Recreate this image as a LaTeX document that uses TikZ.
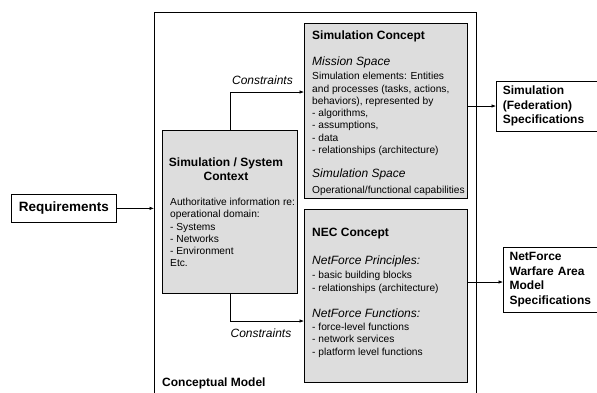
\documentclass[tikz,border=0pt]{standalone}
\usepackage{fontspec}
\setmainfont{Liberation Sans}
\usetikzlibrary{arrows.meta,positioning}
\definecolor{boxgray}{RGB}{221,221,221}
\tikzset{
  cbox/.style={draw, fill=boxgray, line width=0.7pt, anchor=north west, inner sep=0pt},
  obox/.style={draw, line width=0.7pt, anchor=north west},
  txt/.style={anchor=base west, inner sep=0pt, align=left, font=\fontsize{10.2}{12.3}\selectfont},
  ttl/.style={anchor=base west, inner sep=0pt, font=\fontsize{12}{14}\selectfont\bfseries},
  hdg/.style={anchor=base west, inner sep=0pt, font=\fontsize{12}{14}\selectfont\itshape},
  spec/.style={obox, align=left, inner ysep=0pt, font=\fontsize{12}{14.5}\selectfont\bfseries},
  arr/.style={-{Latex[length=4.5pt,width=3.5pt]}, line width=0.6pt}
}
\begin{document}
\begin{tikzpicture}[x=1pt, y=-1pt]
  \useasboundingbox (0,0) rectangle (597,392);
  \clip (0,0) rectangle (597,392);
  % conceptual model frame
  \node[draw, line width=1pt, anchor=north west, inner sep=0pt, minimum width=322pt, minimum height=400pt] (cm) at (154,12) {};
  \node[ttl] (cmt) at (162,386.5) {Conceptual Model};
  % boxes
  \node[cbox, minimum width=135pt, minimum height=163pt] (ctx) at (162,130) {};
  \node[cbox, minimum width=163pt, minimum height=175pt] (simc) at (304,23) {};
  \node[cbox, minimum width=163pt, minimum height=173pt] (nec) at (304,209) {};
  \node[obox, inner sep=0pt, minimum width=105pt, minimum height=28pt, font=\fontsize{13.5}{16}\selectfont\bfseries] (req) at (11,194) {Requirements};
  \node[spec, text width=88pt, inner xsep=6.5pt, minimum height=50pt] (sspec) at (496,81) {Simulation\\(Federation)\\Specifications};
  \node[spec, text width=81pt, inner xsep=6.3pt, minimum height=65pt] (nspec) at (503,247) {NetForce\\Warfare Area\\Model\\Specifications};
  % context text (base = last line)
  \node[ttl, anchor=base, align=center] (ctxt) at (226,180) {Simulation / System\\Context};
  \node[txt] (ctxl) at (170,266.9) {Authoritative information re:\\operational domain:\\- Systems\\- Networks\\- Environment\\Etc.};
  % simulation concept text
  \node[ttl] (simct) at (312,39.3) {Simulation Concept};
  \node[hdg] (mis) at (312,65.3) {Mission Space};
  \node[txt] (misl) at (312,153.5) {Simulation elements: Entities\\and processes (tasks, actions,\\behaviors), represented by\\- algorithms,\\- assumptions,\\- data\\- relationships (architecture)};
  \node[hdg] (sims) at (312,177.6) {Simulation Space};
  \node[txt] (simsl) at (312,193) {Operational/functional capabilities};
  % NEC concept text
  \node[ttl] (nect) at (312,236.6) {NEC Concept};
  \node[hdg] (nfp) at (312,264.3) {NetForce Principles:};
  \node[txt] (nfpl) at (312,291) {- basic building blocks\\- relationships (architecture)};
  \node[hdg] (nff) at (312,317.6) {NetForce Functions:};
  \node[txt] (nffl) at (312,355) {- force-level functions\\- network services\\- platform level functions};
  % connectors
  \draw[arr] (req.east) -- (req.east -| cm.west);
  \draw[arr] (ctx.north) |- (simc.west |- 0,92) node[pos=0.72, above=4pt, font=\fontsize{12}{14}\selectfont\itshape] (c1) {Constraints};
  \draw[arr] (ctx.south) |- (nec.west |- 0,321) node[pos=0.71, below=4pt, font=\fontsize{12}{14}\selectfont\itshape] (c2) {Constraints};
  \draw[arr] (simc.east |- 0,106) -- (sspec.west |- 0,106);
  \draw[arr] (nec.east |- 0,282) -- (nspec.west |- 0,282);
\end{tikzpicture}
\end{document}
